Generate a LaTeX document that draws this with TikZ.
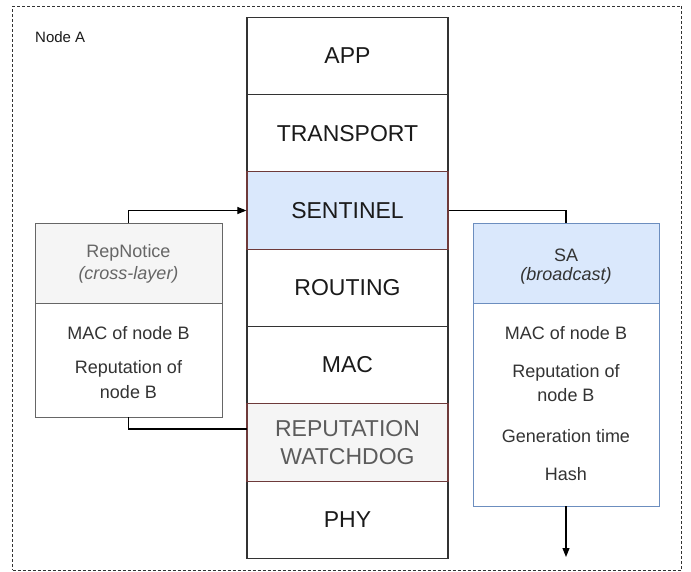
\documentclass[tikz,border=0pt]{standalone}
\usepackage{fontspec}
\setmainfont{Liberation Sans}
\usetikzlibrary{arrows.meta}
\definecolor{stk}{HTML}{333333}
\definecolor{redstk}{HTML}{6E3A3A}
\definecolor{bluefill}{HTML}{DAE8FC}
\definecolor{bluestk}{HTML}{6C8EBF}
\definecolor{grayfill}{HTML}{F5F5F5}
\definecolor{graystk}{HTML}{666666}
\definecolor{txt}{HTML}{1A1A1A}
\definecolor{bodytxt}{HTML}{333333}
\tikzset{
  layer/.style={draw=stk, line width=1.2pt, rectangle, minimum width=201pt, minimum height=77.3pt, inner sep=0pt, align=center, text=txt, font=\fontsize{23}{27}\selectfont},
  hilayer/.style={layer, draw=redstk},
  hdr/.style={rectangle, inner sep=0pt, minimum height=80pt, line width=0.9pt},
  bodybox/.style={rectangle, inner sep=0pt, line width=0.9pt},
  btxt/.style={inner sep=0pt, text=bodytxt, font=\fontsize{18}{21}\selectfont},
  conn/.style={draw=black, line width=1.1pt},
  tip/.style={-{Stealth[length=9pt,width=7pt,inset=0pt]}}
}
\begin{document}
\begin{tikzpicture}[x=1pt,y=-1pt]
\useasboundingbox (0,0) rectangle (691,571);
% outer dashed container
\node[draw=stk, dash pattern=on 3pt off 2pt, line width=0.9pt, rectangle, minimum width=669pt, minimum height=564pt, inner sep=0pt] (nodea) at (347,288) {};
\node[anchor=base west, inner sep=0pt, text=txt, font=\fontsize{15}{18}\selectfont] (nodealbl) at (35,42) {Node A};
% stack
\node[layer] (app) at (347.5,56) {APP};
\node[layer] (trans) at (347.5,133.5) {TRANSPORT};
\node[layer] (rout) at (347.5,287.5) {ROUTING};
\node[layer] (mac) at (347.5,365) {MAC};
\node[layer] (phy) at (347.5,519.5) {PHY};
\node[hilayer, fill=bluefill] (sent) at (347.5,210.5) {SENTINEL};
\node[hilayer, fill=grayfill, text=graystk!90!black, font=\fontsize{23}{30}\selectfont] (rw) at (347.5,442.5) {REPUTATION\\[-2pt]WATCHDOG};
% RepNotice box
\node[hdr, draw=graystk, fill=grayfill, minimum width=187pt] (rnh) at (128.5,263) {};
\node[bodybox, draw=graystk, fill=white, minimum width=187pt, minimum height=114pt] (rnb) at (128.5,360) {};
\node[btxt, text=graystk] (rnt1) at (128.5,253) {RepNotice};
\node[btxt, text=graystk] (rnt2) at (128.5,275) {\itshape (cross-layer)};
\node[btxt] (rnt3) at (128.5,333) {MAC of node B};
\node[btxt] (rnt4) at (128.5,369) {Reputation of};
\node[btxt] (rnt5) at (128.5,392) {node B};
% SA box
\node[hdr, draw=bluestk, fill=bluefill, minimum width=186pt] (sah) at (566,263) {};
\node[bodybox, draw=bluestk, fill=white, minimum width=186pt, minimum height=203pt] (sab) at (566,404.5) {};
\node[btxt] (sat1) at (566,255) {SA};
\node[btxt] (sat2) at (566,276) {\itshape (broadcast)};
\node[btxt] (sat3) at (566,333) {MAC of node B};
\node[btxt] (sat4) at (566,373) {Reputation of};
\node[btxt] (sat5) at (566,395) {node B};
\node[btxt] (sat6) at (566,436) {Generation time};
\node[btxt] (sat7) at (566,474) {Hash};
% connectors
\coordinate (rwin) at (247,429);
\coordinate (saout) at (566,557);
\draw[conn, tip] (rnh.north) |- (sent.west);
\draw[conn] (rnb.south) |- (rwin);
\draw[conn] (sent.east) -| (sah.north);
\draw[conn, tip] (sab.south) -- (saout);
\end{tikzpicture}
\end{document}
